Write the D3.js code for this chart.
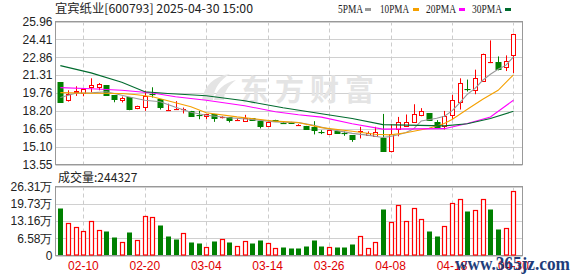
<!DOCTYPE html>
<html>
<head>
<meta charset="utf-8">
<script src="https://cdn.jsdelivr.net/npm/d3@7/dist/d3.min.js"></script>
<style>
  body { margin: 0; background: #fff; }
  svg { display: block; }
</style>
</head>
<body>
<svg id="chart" width="578" height="276"></svg>
<script>
// trading days shown (2025)
var dates = ["02-05","02-06","02-07","02-10","02-11","02-12","02-13","02-14","02-17","02-18",
  "02-19","02-20","02-21","02-24","02-25","02-26","02-27","02-28","03-03","03-04",
  "03-05","03-06","03-07","03-10","03-11","03-12","03-13","03-14","03-17","03-18",
  "03-19","03-20","03-21","03-24","03-25","03-26","03-27","03-28","03-31","04-01",
  "04-02","04-03","04-07","04-08","04-09","04-10","04-11","04-14","04-15","04-16",
  "04-17","04-18","04-21","04-22","04-23","04-24","04-25","04-28","04-29","04-30"];

var opens  = [20.68,19.15,19.88,19.79,20.28,20.28,20.42,19.56,19.15,19.39,
  18.41,18.55,19.66,19.21,18.30,18.32,18.30,18.20,17.82,17.74,
  17.94,17.62,17.63,17.40,17.34,17.57,17.34,16.94,17.40,17.18,
  17.22,16.97,16.88,16.82,16.38,16.16,16.44,16.26,16.10,16.40,
  16.04,16.01,15.81,14.65,16.59,16.88,17.20,17.83,17.98,17.25,
  16.94,17.86,19.01,20.06,20.05,20.86,22.44,22.44,22.01,23.11];
var highs  = [20.70,19.99,20.34,20.14,21.03,20.62,20.45,19.56,19.45,19.39,
  18.65,19.96,20.25,19.21,18.83,19.05,18.49,18.20,18.20,17.92,
  17.94,17.74,17.63,17.57,17.86,17.57,17.34,17.28,17.43,17.25,
  17.25,17.05,16.90,17.31,16.53,16.55,16.46,16.42,16.10,16.82,
  16.42,16.82,17.94,17.05,17.68,17.89,18.78,18.44,17.98,17.40,
  18.20,19.59,21.03,20.92,21.78,23.17,24.32,22.93,23.02,24.90];
var lows   = [18.90,19.01,19.50,19.47,19.82,19.99,19.56,18.95,18.93,18.26,
  18.35,18.20,19.36,18.32,18.26,18.30,17.98,17.80,17.48,17.48,
  17.25,17.55,17.20,17.34,17.28,17.37,16.68,16.88,17.25,17.10,
  17.08,16.94,16.60,16.16,16.19,16.14,16.25,16.04,15.52,15.81,
  16.04,15.95,14.71,14.60,16.00,16.88,17.20,17.74,17.37,16.77,
  16.59,17.46,18.32,19.88,19.65,20.80,22.35,21.72,21.66,21.49];
var closes = [18.95,19.67,19.95,20.14,20.45,20.51,19.59,19.21,19.36,18.37,
  18.61,19.47,19.64,18.52,18.32,18.34,18.33,17.80,17.80,17.92,
  17.60,17.64,17.34,17.42,17.60,17.37,16.88,17.25,17.28,17.16,
  17.11,17.00,16.62,16.53,16.35,16.53,16.25,16.23,15.75,16.43,
  16.25,16.33,14.71,16.16,17.20,17.25,17.89,18.17,17.40,16.82,
  17.80,19.13,20.62,20.02,21.09,23.17,22.46,21.87,22.53,24.90];

// volume in 万 and its colour (1 = red / up, 0 = green / down)
var volumes = [18.1,12.3,10.8,9.2,13.1,9.6,9.2,6.9,5.0,8.9,
  5.8,15.0,14.6,11.7,7.3,6.2,8.5,5.1,4.7,3.1,
  5.4,6.2,5.1,3.5,5.4,4.7,5.8,4.6,2.7,3.1,
  2.7,2.7,3.5,5.8,3.8,3.3,3.1,3.1,4.2,7.6,
  3.0,5.0,17.7,12.6,19.2,13.3,18.0,14.1,9.2,7.3,
  11.4,19.9,21.4,16.9,17.2,21.4,17.7,10.0,10.3,24.4327];
var volUp = [0,1,1,1,1,1,0,0,1,0, 1,1,1,0,0,0,1,0,0,1, 0,1,0,1,1,0,0,1,1,0,
  0,0,0,0,0,1,0,0,0,1, 1,1,0,1,1,1,1,1,0,0, 1,1,1,0,1,1,0,0,1,1];

// moving averages: [day index, value]
var ma5 = [[0,19.36],[2,19.73],[4,19.77],[6,19.86],[9,19.41],[11,19.13],[13,19.00],[15,18.52],
  [17,18.09],[19,17.83],[22,17.61],[25,17.46],[28,17.25],[31,17.18],[33,16.96],[35,16.62],
  [38,16.25],[40,16.10],[42,15.90],[43,15.98],[44,16.13],[45,16.33],[46,16.64],[47,17.33],
  [49,17.57],[50,17.74],[51,18.20],[52,18.90],[53,19.65],[54,20.16],[55,20.86],[56,21.38],
  [57,21.81],[58,22.15],[59,22.90]];
var ma10 = [[0,19.79],[4,19.73],[8,19.71],[10,19.60],[12,19.43],[14,19.08],[17,18.56],[19,18.04],
  [23,17.68],[28,17.31],[31,17.20],[34,16.75],[38,16.44],[41,16.17],[43,16.12],[45,16.31],
  [48,16.70],[50,17.10],[51,17.45],[53,18.35],[55,19.21],[57,19.99],[59,21.33]];
var ma20 = [[0,20.22],[4,20.12],[8,19.99],[12,19.75],[15,19.43],[19,19.13],[24,18.65],[28,18.13],
  [31,17.87],[34,17.66],[38,17.09],[42,16.62],[50,16.66],[53,17.11],[56,17.68],[59,19.13]];
var ma30 = [[0,22.13],[4,21.50],[8,20.68],[11,19.86],[14,19.71],[19,19.52],[24,19.08],[29,18.48],
  [34,17.96],[38,17.54],[42,17.01],[50,16.90],[53,17.09],[56,17.54],[59,18.17]];

var priceTicks = [13.55,15.10,16.65,18.20,19.76,21.31,22.86,24.41,25.96];
var volTicks = [0,6.58,13.16,19.73,26.31];
var volTickLabels = ["0","6.58万","13.16万","19.73万","26.31万"];
var dateTicks = ["02-10","02-20","03-04","03-14","03-26","04-08","04-18","04-30"];

var RED = "#ff0000", GREEN = "#008000";
var maColors = {ma5: "#999999", ma10: "#f5a000", ma20: "#ff00ff", ma30: "#006b2e"};

var svg = d3.select("#chart");
var font = "'Liberation Sans', Arial, sans-serif";

var L = 55.5, R = 522.5;
var pTop = 21.5, pBot = 164.5;
var vTop = 186.5, vBot = 255.5;

var x = d3.scaleBand().domain(dates).range([56.5, 517.3]);
function cx(d) { return Math.round(x(d) + x.bandwidth() / 2) + 0.5; }
var y = d3.scaleLinear().domain([13.55, 25.96]).range([pBot, pTop]);
var yv = d3.scaleLinear().domain([0, 26.31]).range([vBot, vTop]);

// ---- grid ----
function grid(top, bot, ticks, scale) {
  var g = svg.append("g");
  g.selectAll("line.h").data(ticks).enter().append("line")
    .attr("x1", L).attr("x2", R)
    .attr("y1", function (d) { return Math.round(scale(d)) + 0.5; })
    .attr("y2", function (d) { return Math.round(scale(d)) + 0.5; })
    .attr("stroke", "#d0d0d0");
  g.selectAll("line.v").data(dateTicks).enter().append("line")
    .attr("x1", cx).attr("x2", cx)
    .attr("y1", top).attr("y2", bot)
    .attr("stroke", "#cccccc").attr("stroke-dasharray", "4,3");
  g.append("rect").attr("x", L).attr("y", top).attr("width", R - L).attr("height", bot - top)
    .attr("fill", "none").attr("stroke", "#999");
}
grid(pTop, pBot, priceTicks, y);
grid(vTop, vBot, volTicks, yv);

// ---- watermark ----
var wm = svg.append("g").attr("fill", "#e4e4e4");
wm.append("path")
  .attr("d", "M202,100 C204,86 214,76 230,74 C220,80 214,88 213,100 Z M214,100 C216,90 224,83 236,80 C228,86 224,92 224,100 Z");
wm.append("text").attr("x", 240).attr("y", 101)
  .attr("font-family", "'Noto Sans CJK SC', sans-serif").attr("font-weight", "bold")
  .attr("font-size", 29).attr("textLength", 134).attr("lengthAdjust", "spacing")
  .text("东方财富");

// ---- candles ----
var idx = d3.range(dates.length);
var cg = svg.append("g");
cg.selectAll("line.wick").data(idx).enter().append("line")
  .attr("x1", function (i) { return cx(dates[i]); })
  .attr("x2", function (i) { return cx(dates[i]); })
  .attr("y1", function (i) { return y(highs[i]); })
  .attr("y2", function (i) { return y(lows[i]); })
  .attr("stroke", function (i) { return closes[i] >= opens[i] ? RED : GREEN; });

cg.selectAll("rect.body").data(idx).enter().append("rect")
  .attr("x", function (i) { return cx(dates[i]) - 2.5 + (closes[i] >= opens[i] ? 0.5 : 0); })
  .attr("y", function (i) { return Math.round(y(Math.max(opens[i], closes[i]))) + 0.5; })
  .attr("width", function (i) { return closes[i] >= opens[i] ? 4 : 5; })
  .attr("height", function (i) {
    return Math.max(0.1, Math.round(Math.abs(y(opens[i]) - y(closes[i]))));
  })
  .attr("fill", function (i) { return closes[i] >= opens[i] ? "#fff" : GREEN; })
  .attr("stroke", function (i) { return closes[i] >= opens[i] ? RED : GREEN; });

// ---- moving averages ----
var line = d3.line()
  .x(function (d) { return x(dates[d[0]]) + x.bandwidth() / 2; })
  .y(function (d) { return y(d[1]); });
[["ma5", ma5], ["ma10", ma10], ["ma20", ma20], ["ma30", ma30]].forEach(function (m) {
  svg.append("path").datum(m[1]).attr("d", line)
    .attr("fill", "none").attr("stroke", maColors[m[0]]).attr("stroke-width", 1.1);
});

// ---- volume bars ----
svg.append("g").selectAll("rect").data(idx).enter().append("rect")
  .attr("x", function (i) { return cx(dates[i]) - 2.5 + (volUp[i] ? 0.5 : 0); })
  .attr("y", function (i) { return Math.round(yv(volumes[i])) + 0.5; })
  .attr("width", function (i) { return volUp[i] ? 4 : 5; })
  .attr("height", function (i) { return vBot - 0.5 - Math.round(yv(volumes[i])) - 0.5; })
  .attr("fill", function (i) { return volUp[i] ? "#fff" : GREEN; })
  .attr("stroke", function (i) { return volUp[i] ? RED : GREEN; })
  .attr("stroke-width", function (i) { return volUp[i] ? 1.2 : 0; });

// ---- axes ----
var ay = svg.append("g").attr("transform", "translate(" + L + ",0)")
  .call(d3.axisLeft(y).tickValues(priceTicks).tickSize(0).tickPadding(3).tickFormat(d3.format(".2f")));
var av = svg.append("g").attr("transform", "translate(" + L + ",0)")
  .call(d3.axisLeft(yv).tickValues(volTicks).tickSize(0).tickPadding(3)
    .tickFormat(function (d, i) { return volTickLabels[i]; }));
var ax = svg.append("g").attr("transform", "translate(0," + vBot + ")")
  .call(d3.axisBottom(x).tickValues(dateTicks).tickSize(0).tickPadding(6));
[ay, av, ax].forEach(function (a) {
  a.select(".domain").remove();
  a.selectAll("text").attr("font-family", font).attr("font-size", 12).attr("fill", "#222");
});
ax.selectAll("text").attr("fill", "#e00000");

// ---- titles / legend ----
svg.append("text").attr("x", 55).attr("y", 13)
  .attr("font-family", "'Noto Sans CJK SC', sans-serif").attr("font-size", 12).attr("fill", "#222")
  .attr("textLength", 198).attr("lengthAdjust", "spacingAndGlyphs")
  .text("宜宾纸业[600793] 2025-04-30  15:00");

var legend = [
  {name: "5PMA", color: maColors.ma5, x: 338, w: 25, sx: 365},
  {name: "10PMA", color: maColors.ma10, x: 380, w: 29, sx: 413},
  {name: "20PMA", color: maColors.ma20, x: 426, w: 30, sx: 459},
  {name: "30PMA", color: maColors.ma30, x: 472, w: 30, sx: 505}
];
var lg = svg.append("g");
lg.selectAll("text").data(legend).enter().append("text")
  .attr("x", function (d) { return d.x; }).attr("y", 13)
  .attr("font-family", "'Liberation Serif', serif").attr("font-size", 12).attr("fill", "#222")
  .attr("textLength", function (d) { return d.w; }).attr("lengthAdjust", "spacingAndGlyphs")
  .text(function (d) { return d.name; });
lg.selectAll("rect").data(legend).enter().append("rect")
  .attr("x", function (d) { return d.sx; }).attr("y", 8).attr("width", 6).attr("height", 3)
  .attr("fill", function (d) { return d.color; });

svg.append("text").attr("x", 58).attr("y", 182)
  .attr("font-family", "'Noto Sans CJK SC', sans-serif").attr("font-size", 12).attr("fill", "#222")
  .text("成交量:244327");

// site watermark
svg.append("text").attr("x", 455).attr("y", 270)
  .attr("font-family", "'Liberation Serif', serif").attr("font-weight", "bold")
  .attr("font-size", 19).attr("fill", "#1f3d7a")
  .attr("textLength", 115).attr("lengthAdjust", "spacingAndGlyphs")
  .text("www.365jz.com");
</script>
</body>
</html>
